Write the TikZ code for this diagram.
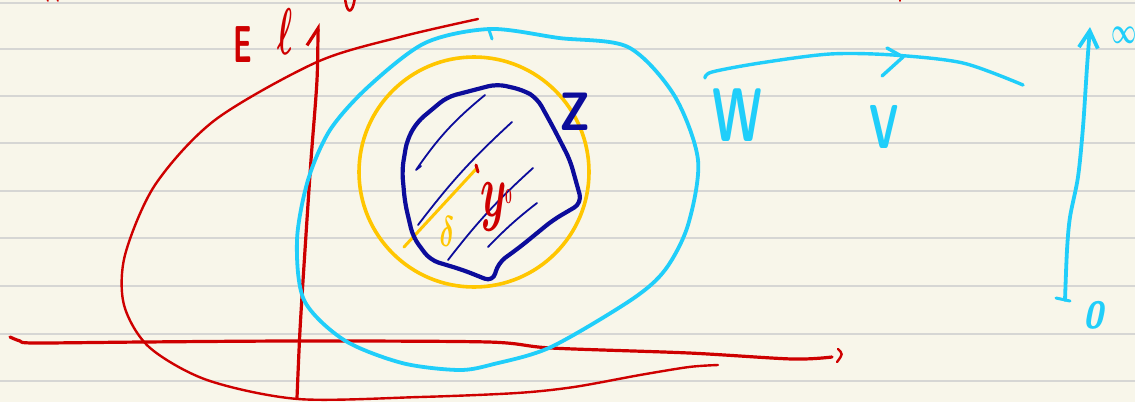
\documentclass[tikz,border=0pt]{standalone}
\usepackage{graphicx}
\usetikzlibrary{arrows.meta}
\definecolor{paper}{RGB}{248,246,234}
\definecolor{ruleline}{RGB}{214,214,212}
\definecolor{redink}{RGB}{206,0,0}
\definecolor{cyanink}{RGB}{32,206,250}
\definecolor{goldink}{RGB}{255,198,0}
\definecolor{blueink}{RGB}{12,12,155}

\begin{document}
\begin{tikzpicture}[
  x=1pt, y=-1pt,
  pen/.style={line cap=round, line join=round},
  redpen/.style={pen, draw=redink, line width=2.4pt},
  cyanpen/.style={pen, draw=cyanink, line width=3.8pt},
  goldpen/.style={pen, draw=goldink, line width=3.6pt},
  bluepen/.style={pen, draw=blueink, line width=4.2pt},
  hatch/.style={pen, draw=blueink, line width=1.8pt},
  rule/.style={draw=ruleline, line width=1.6pt},
  hand/.style={inner sep=0pt, font=\sffamily\bfseries\boldmath}
]
\useasboundingbox (0,0) rectangle (1135,402);
\fill[paper] (0,0) rectangle (1135,402);
\foreach \y in {3,49,96,143,191,238,286,334,381}
  \draw[rule] (0,\y) -- (1135,\y);

% bits of writing cut off at the top
\draw[redpen, line width=2.6pt] (345,-3) .. controls (346,12) and (352,18) .. (355,-3);
\draw[redpen, line width=1.6pt] (47,-1) -- (48,1) (57,-1) -- (58,1) (900,-1) -- (900,1);

% red axes
\draw[redpen, line width=3.2pt, -{Straight Barb[left, length=17pt, width=22pt]}]
  plot[smooth] coordinates {(297,398) (300,330) (305,250) (311,160) (317,80) (318,23)};
\draw[redpen, line width=3.2pt]
  plot[smooth] coordinates {(10,337) (20,341) (34,343) (143,342) (300,341) (488,342)
    (551,348) (689,353) (792,359) (832,357)};
\draw[redpen] (838,349) .. controls (843,354) .. (837,362);

% red loop
\draw[redpen]
  plot[smooth] coordinates {(478,19) (400,37) (317,62) (215,120) (155,185) (125,255)
    (124,305) (149,347) (207,380) (298,399) (420,397) (517,393) (574,387) (640,375)
    (689,367) (718,365)};
\node[hand, text=redink, xscale=2.9, yscale=5.2] (e) at (243,45) {E};
\node[hand, text=redink, xscale=3.2, yscale=6.6] (ell) at (285,32) {$\ell$};

% cyan neighbourhood W
\draw[cyanpen]
  plot[smooth cycle] coordinates {(490,29) (559,38) (628,47) (674,95) (698,160) (688,225)
    (665,270) (631,300) (551,347) (494,364) (459,370) (402,363) (344,340) (304,300)
    (297,240) (308,180) (330,130) (368,87) (425,43)};
\draw[cyanpen, line width=3pt] (489,30) -- (492,39);
\node[hand, text=cyanink, xscale=4.8, yscale=7.6] (w) at (737,115) {W};

% gold ball and radius
\draw[goldpen] (474,172) circle[radius=115];
\draw[goldpen, line width=3pt] (404,247) -- (477,168);
\draw[redpen, line width=3pt] (476,165) -- (478,172);
\node[hand, text=goldink, xscale=2.6, yscale=4.3] (delta) at (447,232) {$\delta$};

% blue set Z
\draw[bluepen, rounded corners=9pt]
  (417,122) -- (447,97) -- (497,84) -- (523,90) -- (537,98) -- (553,127) -- (570,160)
  -- (582,203) -- (553,220) -- (520,247) -- (498,263) -- (493,282) -- (463,270)
  -- (430,260) -- (413,237) -- (405,203) -- (402,170) -- (407,140) -- cycle;
\draw[hatch] (421,166) -- (416,170) to[bend left=8] (485,95);
\draw[hatch] (418,225) to[bend left=5] (512,122);
\draw[hatch] (448,260) to[bend left=5] (533,168);
\draw[hatch] (488,247) to[bend left=4] (537,203);
\node[hand, text=blueink, xscale=4.6, yscale=5.4] (z) at (575,112) {Z};
\node[hand, text=redink, xscale=4.2, yscale=7.6] (yzero) at (496,207)
  {$y\kern-0.3pt\raisebox{1.7pt}{\scalebox{0.28}{$0$}}$};

% map arrow to V
\draw[cyanpen, line width=3.4pt]
  plot[smooth] coordinates {(705,78) (712,72) (760,63) (830,54) (893,55) (963,63) (1023,85)};
\draw[cyanpen, line width=3.4pt] (887,48) -- (903,57) -- (882,76);
\node[hand, text=cyanink, xscale=4, yscale=6.2] (v) at (884,127) {V};

% cyan axis from 0 to infinity
\draw[cyanpen, -{Straight Barb[length=17pt, width=19pt]}]
  plot[smooth] coordinates {(1065,300) (1067,250) (1070,217) (1078,177) (1083,127)
    (1087,67) (1090,27)};
\draw[cyanpen, line width=3pt] (1056,298) -- (1070,301);
\node[hand, text=cyanink, xscale=3.6, yscale=3.8, font=\sffamily\bfseries\slshape] (zero) at (1093,315) {0};
\node[hand, text=cyanink, xscale=2.2, yscale=3.7] (inf) at (1124,35) {$\infty$};
\end{tikzpicture}
\end{document}
